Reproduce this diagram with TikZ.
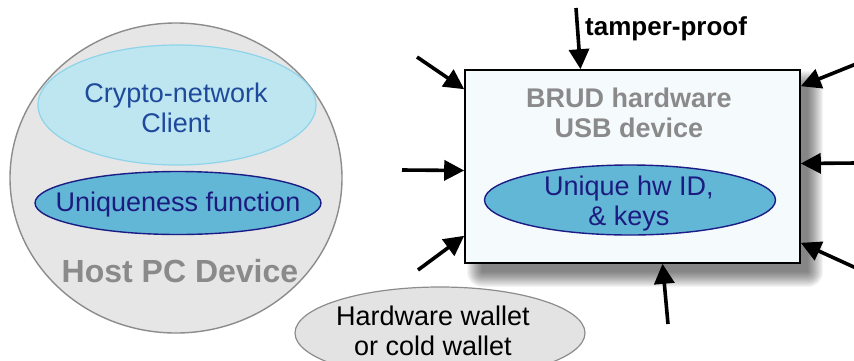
\documentclass[tikz,border=0pt]{standalone}
\usepackage{fontspec}
\setmainfont{Liberation Sans}
\usetikzlibrary{shapes.geometric,arrows.meta}
\definecolor{hostfill}{HTML}{E6E6E6}
\definecolor{hostline}{HTML}{8C8C8C}
\definecolor{cryfill}{HTML}{BEE6F0}
\definecolor{cryline}{HTML}{8ED4EA}
\definecolor{crytext}{HTML}{1F4A9C}
\definecolor{unifill}{HTML}{62B7D6}
\definecolor{uniline}{HTML}{1C1C86}
\definecolor{unitext}{HTML}{1C1C80}
\definecolor{boxfill}{HTML}{F5FAFD}
\definecolor{greytext}{HTML}{8A8A8A}
\definecolor{walletfill}{HTML}{E3E3E3}
\tikzset{
  shapeell/.style={ellipse, inner sep=0pt},
  lbl/.style={anchor=base, inner sep=0pt, font=\fontsize{27}{30}\selectfont},
  blbl/.style={anchor=base, inner sep=0pt, font=\fontsize{27}{30}\selectfont\bfseries, text=greytext},
  arr/.style={line width=3.6pt, -{Triangle[length=20pt,width=20pt]}},
}
\begin{document}
\begin{tikzpicture}[x=1pt,y=-1pt]
\useasboundingbox (0,0) rectangle (854,360);
% Host PC device
\node[shapeell, draw=hostline, line width=1.4pt, fill=hostfill, minimum width=332pt, minimum height=310pt] (host) at (176,178) {};
\node[shapeell, draw=cryline, line width=1.2pt, fill=cryfill, minimum width=278pt, minimum height=120pt] (cry) at (177,105) {};
\node[lbl, text=crytext] (cry1) at (176,102) {Crypto-network};
\node[lbl, text=crytext] (cry2) at (176,132) {Client};
\node[shapeell, draw=uniline, line width=1.4pt, fill=unifill, minimum width=286pt, minimum height=63pt] (uni) at (178,203) {};
\node[lbl, text=unitext] (uni1) at (178,211) {Uniqueness function};
\node[blbl, font=\fontsize{32}{34}\selectfont\bfseries] (hostlbl) at (180,282) {Host PC Device};
% shadow of box
\foreach \i in {0,...,15}{
  \fill[black, opacity=0.04, rounded corners=\i pt] (482-\i,86-\i) rectangle (808+\i,272+\i);
}
% hardware wallet
\node[shapeell, draw=hostline, line width=1.2pt, fill=walletfill, minimum width=290pt, minimum height=92pt] (wallet) at (440,333) {};
\node[lbl, text=black] (w1) at (433,325) {Hardware wallet};
\node[lbl, text=black] (w2) at (433,355) {or cold wallet};
% BRUD box
\node[draw=black, line width=1.6pt, fill=boxfill, minimum width=335pt, minimum height=193pt, inner sep=0pt] (box) at (632.5,166.5) {};
\node[blbl] (b1) at (629,107) {BRUD hardware};
\node[blbl] (b2) at (629,137) {USB device};
\node[shapeell, draw=uniline, line width=1.4pt, fill=unifill, minimum width=291pt, minimum height=70pt] (hw) at (630,200) {};
\node[lbl, text=unitext] (hw1) at (629,195) {Unique hw ID,};
\node[lbl, text=unitext] (hw2) at (629,225) {\&{} keys};
% tamper-proof label
\node[anchor=base west, inner sep=0pt, font=\fontsize{26}{28}\selectfont\bfseries] (tp) at (585,35) {tamper-proof};
% arrows
\coordinate (s1) at (576,8);
\coordinate (s2) at (417,57);
\coordinate (s3) at (402,170);
\coordinate (s4) at (418,270);
\coordinate (s5) at (856,64);
\coordinate (s6) at (856,163);
\coordinate (s7) at (856,268);
\coordinate (s8) at (668,324);
\draw[arr] (s1) -- ([xshift=-52pt]box.north);
\draw[arr] (s2) -- ([yshift=-20pt]box.north west);
\draw[arr] (s3) -- ([yshift=-4pt]box.west);
\draw[arr] (s4) -- ([yshift=28pt]box.south west);
\draw[arr] (s5) -- ([yshift=-17pt]box.north east);
\draw[arr] (s6) -- ([yshift=3pt]box.east);
\draw[arr] (s7) -- ([yshift=21pt]box.south east);
\draw[arr] (s8) -- ([xshift=30pt]box.south);
\end{tikzpicture}
\end{document}
